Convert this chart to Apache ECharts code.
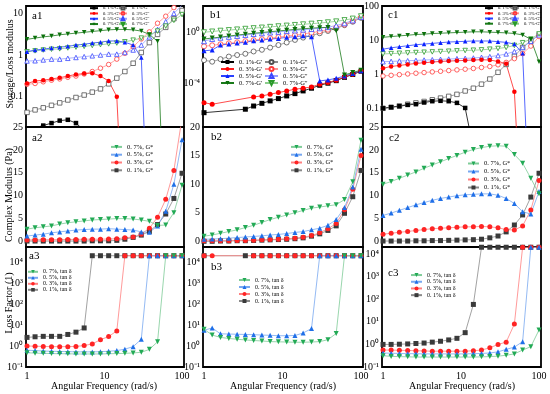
<!DOCTYPE html>
<html><head><meta charset="utf-8">
<script src="https://cdn.jsdelivr.net/npm/echarts@6/dist/echarts.min.js"></script>
<style>html,body{margin:0;padding:0;background:#fff}#c{width:550px;height:394px}</style>
</head><body><div id="c"></div>
<script>
// ---------- data ----------
const freq = [1, 1.27, 1.62, 2.07, 2.64, 3.36, 4.28, 5.46, 6.95, 8.86, 11.3, 14.4, 18.3, 23.4, 29.8, 37.9, 48.3, 61.6, 78.5, 100];

// row 1 : storage (G') / loss (G'') modulus
const a1_Gp_01 = [0.0158, 0.0174, 0.0195, 0.0224, 0.0257, 0.0269, 0.0224, 0.0148, null, null, null, null, null, null, null, null, null, null, null, null];
const a1_Gp_03 = [0.204, 0.234, 0.245, 0.263, 0.282, 0.309, 0.339, 0.355, 0.363, 0.309, 0.234, 0.0977, 0.00001, null, null, null, null, null, null, null];
const a1_Gp_05 = [1.20, 1.32, 1.38, 1.48, 1.55, 1.62, 1.74, 1.82, 1.95, 2.04, 2.19, 2.19, 2.04, 1.74, 0.871, 0.00001, null, null, null, null];
const a1_Gp_07 = [2.40, 2.57, 2.75, 2.88, 3.09, 3.24, 3.39, 3.55, 3.72, 3.89, 4.07, 4.17, 4.17, 4.07, 3.80, 3.16, 2.14, 0.00001, null, null];
const a1_Gpp_01 = [0.0407, 0.0468, 0.0525, 0.0603, 0.0692, 0.0813, 0.0933, 0.107, 0.126, 0.151, 0.2, 0.275, 0.398, 0.631, 1.15, 2.0, 3.16, 4.68, 7.59, 12.0];
const a1_Gpp_03 = [0.195, 0.204, 0.224, 0.245, 0.263, 0.288, 0.309, 0.347, 0.398, 0.479, 0.589, 0.794, 1.10, 1.58, 2.45, 3.63, 5.89, 8.71, 14.1, 22.9];
const a1_Gpp_05 = [0.716, 0.724, 0.759, 0.794, 0.794, 0.832, 0.871, 0.912, 0.955, 1.0, 1.05, 1.05, 1.15, 1.32, 1.74, 2.75, 4.17, 6.46, 10.2, 16.2];
const a1_Gpp_07 = [1.20, 1.26, 1.32, 1.38, 1.41, 1.48, 1.55, 1.62, 1.70, 1.78, 1.86, 1.95, 2.09, 2.29, 2.57, 3.02, 3.80, 5.01, 6.92, 9.55];

const b1_Gp_01 = [5.25e-7, null, null, null, null, 9.77e-7, 1.74e-6, 2.82e-6, 4.37e-6, 6.61e-6, 1.07e-5, 1.62e-5, 2.63e-5, 4.27e-5, 7.24e-5, 1.05e-4, 1.66e-4, 3.02e-4, 5.01e-4, 9.12e-4];
const b1_Gp_03 = [3.16e-6, 2.4e-6, null, null, null, null, 8.91e-6, 1.07e-5, 1.45e-5, 1.95e-5, 2.63e-5, 3.55e-5, 4.27e-5, 5.37e-5, 8.71e-5, 1.17e-4, 1.82e-4, 3.31e-4, 5.37e-4, 9.77e-4];
const b1_Gp_05 = [0.0355, 0.0407, 0.1, 0.120, 0.145, 0.162, 0.219, 0.245, 0.295, 0.331, 0.398, 0.447, 0.537, 0.447, 1.58e-4, 1.91e-4, 2.51e-4, 3.89e-4, 6.03e-4, 9.77e-4];
const b1_Gp_07 = [0.295, 0.355, 0.417, 0.501, 0.603, 0.708, 0.832, 0.955, 1.10, 1.26, 1.45, 1.66, 1.86, 2.09, 2.29, 2.40, 1.32, 4.68e-4, 7.24e-4, 1.10e-3];
const b1_Gpp_01 = [6.61e-3, 5.01e-3, 7.94e-3, 0.0126, 0.0166, 0.0209, 0.0316, 0.0427, 0.0631, 0.1, 0.158, 0.251, 0.38, 0.562, 0.832, 1.26, 2.0, 3.55, 6.61, 13.2];
const b1_Gpp_03 = [0.0794, 0.0955, 0.115, 0.138, 0.166, 0.2, 0.24, 0.288, 0.347, 0.417, 0.501, 0.603, 0.724, 0.912, 1.17, 1.58, 2.34, 3.98, 7.59, 15.1];
const b1_Gpp_05 = [0.2, 0.295, 0.372, 0.437, 0.513, 0.603, 0.724, 0.832, 0.955, 1.07, 1.23, 1.38, 1.58, 1.78, 2.04, 2.51, 3.31, 5.01, 8.32, 15.8];
const b1_Gpp_07 = [1.0, 1.15, 1.32, 1.48, 1.66, 1.86, 2.09, 2.34, 2.63, 2.95, 3.31, 3.72, 4.17, 4.68, 5.25, 6.03, 7.08, 8.91, 11.7, 17.8];

const c1_Gp_01 = [0.0977, 0.105, 0.112, 0.123, 0.129, 0.145, 0.158, 0.162, 0.158, 0.141, 0.1, 0.00631, 0.000001, null, null, null, null, null, null, null];
const c1_Gp_03 = [1.48, 1.66, 1.78, 1.91, 2.04, 2.14, 2.24, 2.34, 2.4, 2.45, 2.51, 2.57, 2.63, 2.57, 2.34, 2.0, 0.302, 0.00001, null, null];
const c1_Gp_05 = [5.37, 5.89, 6.31, 6.76, 7.24, 7.59, 7.94, 8.32, 8.71, 8.91, 9.12, 9.33, 9.33, 9.33, 8.91, 8.51, 7.59, 4.07, 0.00001, null];
const c1_Gp_07 = [12.0, 12.6, 13.2, 13.8, 14.5, 14.8, 15.5, 15.8, 16.2, 16.6, 17.0, 17.4, 17.4, 17.0, 16.6, 16.2, 15.5, 14.1, 10.5, 2.29];
const c1_Gpp_01 = [0.0977, 0.105, 0.115, 0.129, 0.141, 0.155, 0.174, 0.195, 0.219, 0.251, 0.316, 0.38, 0.501, 0.708, 1.12, 1.91, 3.31, 6.03, 9.55, 14.1];
const c1_Gpp_03 = [0.871, 0.912, 0.955, 1.0, 1.05, 1.1, 1.15, 1.2, 1.26, 1.32, 1.38, 1.45, 1.55, 1.66, 1.86, 2.19, 2.82, 3.98, 6.61, 12.6];
const c1_Gpp_05 = [2.29, 2.34, 2.4, 2.45, 2.51, 2.57, 2.63, 2.69, 2.75, 2.82, 2.88, 2.95, 3.09, 3.24, 3.47, 3.89, 4.57, 6.03, 9.12, 14.1];
const c1_Gpp_07 = [3.89, 3.98, 4.07, 4.17, 4.27, 4.37, 4.47, 4.57, 4.68, 4.79, 4.9, 5.01, 5.13, 5.37, 5.62, 6.03, 6.92, 8.32, 10.7, 15.1];

// row 2 : complex modulus G* (Pa)
const a2_01 = [0.1, 0.1, 0.1, 0.1, 0.1, 0.1, 0.1, 0.1, 0.15, 0.15, 0.15, 0.25, 0.5, 0.9, 1.4, 2.2, 3.7, 6.0, 9.4, 14.9];
const a2_03 = [0.35, 0.35, 0.4, 0.4, 0.4, 0.45, 0.45, 0.5, 0.5, 0.5, 0.55, 0.6, 0.8, 1.0, 1.6, 2.9, 5.3, 9.2, 15.5, 27];
const a2_05 = [1.2, 1.4, 1.6, 1.9, 2.1, 2.3, 2.5, 2.6, 2.7, 2.7, 2.8, 2.7, 2.6, 2.5, 2.1, 2.0, 3.4, 6.6, 12.5, 22.2];
const a2_07 = [2.7, 3.0, 3.2, 3.4, 3.8, 4.1, 4.3, 4.5, 4.7, 4.8, 4.9, 5.0, 5.0, 4.9, 4.7, 4.4, 3.5, 3.6, 6.3, 12.3];
const b2_01 = [0.0, 0.0, 0.05, 0.05, 0.1, 0.1, 0.15, 0.2, 0.25, 0.3, 0.35, 0.45, 0.6, 0.9, 1.3, 1.9, 2.7, 4.9, 7.8, 12.4];
const b2_03 = [0.1, 0.1, 0.1, 0.1, 0.15, 0.15, 0.2, 0.25, 0.3, 0.35, 0.45, 0.55, 0.7, 1.0, 1.5, 2.2, 3.1, 5.5, 9.1, 15.0];
const b2_05 = [0.35, 0.4, 0.45, 0.55, 0.65, 0.75, 0.85, 0.95, 1.1, 1.2, 1.35, 1.55, 1.7, 2.0, 2.3, 2.8, 3.8, 5.9, 9.5, 16.1];
const b2_07 = [0.9, 1.1, 1.4, 1.7, 2.0, 2.4, 2.8, 3.3, 3.8, 4.2, 4.6, 5.0, 5.4, 5.8, 6.0, 6.2, 6.4, 7.3, 10.4, 17.7];
const c2_01 = [0.1, 0.1, 0.1, 0.1, 0.15, 0.15, 0.2, 0.2, 0.25, 0.3, 0.35, 0.4, 0.5, 0.8, 1.2, 2.1, 3.6, 5.8, 9.7, 14.9];
const c2_03 = [1.6, 1.8, 2.0, 2.2, 2.4, 2.6, 2.8, 2.9, 3.0, 3.1, 3.2, 3.2, 3.3, 3.2, 3.0, 2.6, 2.5, 3.4, 6.9, 13.3];
const c2_05 = [5.7, 6.2, 6.8, 7.4, 8.0, 8.5, 9.0, 9.4, 9.7, 10.0, 10.2, 10.3, 10.4, 10.4, 10.1, 9.4, 8.3, 6.5, 6.0, 10.9];
const c2_07 = [12.5, 13.1, 13.8, 14.5, 15.2, 16.0, 16.7, 17.4, 18.1, 18.8, 19.5, 20.1, 20.5, 20.8, 20.9, 20.8, 19.0, 17.1, 13.8, 10.4];

// row 3 : loss factor tan delta
const a3_01 = [2.57, 2.75, 2.88, 2.88, 2.88, 3.55, 4.57, 7.24, 20000, 20000, 20000, 20000, 20000, 20000, 20000, 20000, 20000, 20000, 20000, 20000];
const a3_03 = [1.0, 0.977, 0.955, 0.933, 0.933, 0.933, 0.955, 1.05, 1.26, 2.0, 2.82, 5.25, 20000, 20000, 20000, 20000, 20000, 20000, 20000, 20000];
const a3_05 = [0.631, 0.603, 0.575, 0.562, 0.55, 0.537, 0.525, 0.525, 0.525, 0.537, 0.562, 0.603, 0.708, 0.933, 2.09, 20000, 20000, 20000, 20000, 20000];
const a3_07 = [0.479, 0.457, 0.447, 0.437, 0.427, 0.427, 0.417, 0.417, 0.417, 0.417, 0.427, 0.437, 0.447, 0.468, 0.501, 0.692, 1.58, 20000, 20000, 20000];
const b3_01 = [20000, null, null, null, null, 20000, 20000, 20000, 20000, 20000, 20000, 20000, 20000, 20000, 20000, 20000, 20000, 20000, 20000, 20000];
const b3_03 = [20000, 20000, null, null, null, null, 20000, 20000, 20000, 20000, 20000, 20000, 20000, 20000, 20000, 20000, 20000, 20000, 20000, 20000];
const b3_05 = [5.62, 7.24, 3.8, 3.72, 3.63, 3.55, 3.47, 3.31, 3.24, 3.09, 3.09, 3.16, 4.17, 6.76, 20000, 20000, 20000, 20000, 20000, 20000];
const b3_07 = [6.31, 3.31, 2.57, 2.29, 2.09, 1.95, 1.82, 1.74, 1.62, 1.58, 1.55, 1.51, 1.51, 1.55, 1.62, 2.0, 3.98, 20000, 20000, 20000];
const c3_01 = [1.0, 1.0, 1.02, 1.05, 1.1, 1.15, 1.26, 1.38, 1.58, 1.86, 3.31, 58.9, 20000, 20000, 20000, 20000, 20000, 20000, 20000, 20000];
const c3_03 = [0.562, 0.562, 0.55, 0.537, 0.525, 0.513, 0.501, 0.501, 0.501, 0.501, 0.501, 0.525, 0.562, 0.708, 1.0, 1.26, 7.94, 20000, 20000, 20000];
const c3_05 = [0.417, 0.407, 0.398, 0.389, 0.389, 0.38, 0.38, 0.38, 0.38, 0.38, 0.38, 0.389, 0.398, 0.417, 0.468, 0.603, 0.759, 1.32, 20000, 20000];
const c3_07 = [0.316, 0.295, 0.288, 0.282, 0.275, 0.275, 0.275, 0.275, 0.275, 0.275, 0.275, 0.275, 0.282, 0.288, 0.302, 0.331, 0.38, 0.562, 0.794, 4.37];

// tick labels
const xTicks = [1, 10, 100];
const row1Names = ["0. 1%-G'", "0. 3%-G'", "0. 5%-G'", "0. 7%-G'"];
const row1NamesPP = ["0. 1%-G''", "0. 3%-G''", "0. 5%-G''", "0. 7%-G''"];
const row2Names = ["0. 7%, G*", "0. 5%, G*", "0. 3%, G*", "0. 1%, G*"];
const row3Names = ["0. 7%, tan δ", "0. 5%, tan δ", "0. 3%, tan δ", "0. 1%, tan δ"];

// ---------- helpers ----------
const SERIF = '"Liberation Serif","Times New Roman",serif';
const SUP = {'0':'⁰','1':'¹','2':'²','3':'³','4':'⁴','5':'⁵','6':'⁶','7':'⁷','8':'⁸','9':'⁹','-':'⁻'};
function supFmt(allowed){ return function(v){ const l=Math.log10(v), e=Math.round(l); if(Math.abs(l-e)>0.02||allowed.indexOf(e)<0) return ''; return '10'+String(e).split('').map(c=>SUP[c]).join(''); }; }
function decFmt(allowed){ return function(v){ const l=Math.log10(v), e=Math.round(l); if(Math.abs(l-e)>0.02||allowed.indexOf(e)<0) return ''; return e>=0 ? String(Math.round(Math.pow(10,e))) : Math.pow(10,e).toFixed(-e); }; }
function linFmt(v){ return Math.abs(v/5-Math.round(v/5))<1e-6 ? String(Math.round(v)) : ''; }
function pts(vals){ return freq.map((f,i)=>[f, vals[i]==null ? '-' : vals[i]]); }

const COLS = [{left:26,width:158},{left:203,width:160},{left:382,width:159}];
const ROWS = [{top:6,height:121},{top:127,height:120},{top:247,height:120}];

const grids=[], xAxes=[], yAxes=[];
const yCfg = [
  {type:'log', min:0.018, max:15.4, fmt:decFmt([-1,0,1])},
  {type:'log', min:4e-8, max:112, fmt:supFmt([0,-4])},
  {type:'log', min:0.0275, max:100, fmt:decFmt([-1,0,1,2])},
  {type:'value', min:-1.2, max:25, fmt:linFmt},
  {type:'value', min:-1, max:20, fmt:linFmt},
  {type:'value', min:-1.2, max:25, fmt:linFmt},
  {type:'log', min:0.1, max:52000, fmt:supFmt([-1,0,1,2,3,4])},
  {type:'log', min:0.1, max:52000, fmt:supFmt([-1,0,1,2,3,4])},
  {type:'log', min:0.1, max:20500, fmt:supFmt([-1,0,1,2,3,4])}
];
for(let r=0;r<3;r++) for(let c=0;c<3;c++){
  const g=r*3+c;
  grids.push({left:COLS[c].left, width:COLS[c].width, top:ROWS[r].top, height:ROWS[r].height, show:true, borderColor:'#000', borderWidth:1.8, backgroundColor:'transparent'});
  xAxes.push({type:'log', gridIndex:g, min:0.97, max:106, axisLine:{show:false}, axisTick:{show:false}, splitLine:{show:false},
    axisLabel: r===2 ? {show:true, formatter:function(v){ return xTicks.some(t=>Math.abs(Math.log10(v)-Math.log10(t))<0.01) ? String(Math.round(v)) : ''; }, fontFamily:SERIF, fontSize:10, color:'#000', margin:4} : {show:false}});
  const y=yCfg[g];
  yAxes.push({type:y.type, gridIndex:g, min:y.min, max:y.max, axisLine:{show:false}, axisTick:{show:false}, splitLine:{show:false},
    axisLabel:{formatter:y.fmt, fontFamily:SERIF, fontSize:10, color:'#000', margin:3, showMinLabel:true, showMaxLabel:true, hideOverlap:false}});
}

function S(name, g, vals, st){
  const open = !!st.open;
  return {type:'line', name, xAxisIndex:g, yAxisIndex:g, data:pts(vals), symbol:st.sym, symbolSize:st.size, symbolRotate:st.rot||0,
    connectNulls:true, clip:true, lineStyle:{color:st.line, width:0.8},
    itemStyle: open ? {color:'#ffffff', borderColor:st.color, borderWidth:0.8} : {color:st.color, borderWidth:0},
    emphasis:{disabled:true}, animation:false, z:st.z||2};
}
// styles
const R1 = {
  p01:{sym:'rect', color:'#000000', line:'#000000'},
  p03:{sym:'circle', color:'#ff0000', line:'#ff2020'},
  p05:{sym:'triangle', color:'#0a22ff', line:'#2a40ff'},
  p07:{sym:'triangle', rot:180, color:'#0b700b', line:'#1a7a1a'},
  pp01:{sym:'rect', open:true, color:'#505050', line:'#8a8a8a'},
  pp03:{sym:'circle', open:true, color:'#ff3a3a', line:'#ff9090'},
  pp05:{sym:'triangle', open:true, color:'#3a48ff', line:'#95a0ff'},
  pp07:{sym:'triangle', open:true, rot:180, color:'#2a9a2a', line:'#8ccc8c'}
};
const R2 = {
  s01:{sym:'rect', color:'#3a3a3a', line:'#8a8a8a'},
  s03:{sym:'circle', color:'#ff2424', line:'#ff8080'},
  s05:{sym:'triangle', color:'#1f6fe8', line:'#78a8f0'},
  s07:{sym:'triangle', rot:180, color:'#22aa55', line:'#7fcc98'}
};
function sz(o,s){ return Object.assign({}, o, {size:s}); }

const series = [];
// a1
[[a1_Gpp_01,'pp01',0],[a1_Gpp_03,'pp03',1],[a1_Gpp_05,'pp05',2],[a1_Gpp_07,'pp07',3]].forEach(d=>series.push(S(row1NamesPP[d[2]],0,d[0],sz(R1[d[1]],4.5))));
[[a1_Gp_01,'p01',0],[a1_Gp_03,'p03',1],[a1_Gp_05,'p05',2],[a1_Gp_07,'p07',3]].forEach(d=>series.push(S(row1Names[d[2]],0,d[0],sz(R1[d[1]],4.5))));
// b1 (0.1% G'' drawn with open circles here)
const b1pp01 = Object.assign({}, R1.pp01, {sym:'circle'});
series.push(S(row1NamesPP[0]+' ',1,b1_Gpp_01,sz(b1pp01,5)));
[[b1_Gpp_03,'pp03',1],[b1_Gpp_05,'pp05',2],[b1_Gpp_07,'pp07',3]].forEach(d=>series.push(S(row1NamesPP[d[2]]+' ',1,d[0],sz(R1[d[1]],5))));
[[b1_Gp_01,'p01',0],[b1_Gp_03,'p03',1],[b1_Gp_05,'p05',2],[b1_Gp_07,'p07',3]].forEach(d=>series.push(S(row1Names[d[2]]+' ',1,d[0],sz(R1[d[1]],5))));
// c1
[[c1_Gpp_01,'pp01',0],[c1_Gpp_03,'pp03',1],[c1_Gpp_05,'pp05',2],[c1_Gpp_07,'pp07',3]].forEach(d=>series.push(S(row1NamesPP[d[2]],2,d[0],sz(R1[d[1]],4.5))));
[[c1_Gp_01,'p01',0],[c1_Gp_03,'p03',1],[c1_Gp_05,'p05',2],[c1_Gp_07,'p07',3]].forEach(d=>series.push(S(row1Names[d[2]],2,d[0],sz(R1[d[1]],4.5))));
// rows 2 & 3
const r2 = [[a2_01,a2_03,a2_05,a2_07],[b2_01,b2_03,b2_05,b2_07],[c2_01,c2_03,c2_05,c2_07]];
const r3 = [[a3_01,a3_03,a3_05,a3_07],[b3_01,b3_03,b3_05,b3_07],[c3_01,c3_03,c3_05,c3_07]];
const keys = ['s01','s03','s05','s07'];
for(let c=0;c<3;c++){
  for(let k=0;k<4;k++) series.push(S(row2Names[3-k],3+c,r2[c][k],sz(R2[keys[k]],5)));
  for(let k=0;k<4;k++) series.push(S(row3Names[3-k],6+c,r3[c][k],sz(R2[keys[k]],5)));
}

function LG(data,left,top,fs,rowH,iw,ih){
  return {data, left, top, orient:'vertical', padding:0, itemGap:0, itemWidth:iw, itemHeight:ih, selectedMode:false,
    textStyle:{fontSize:fs, lineHeight:rowH, fontFamily:SERIF, color:'#000'}};
}
const legends = [
  LG(row1Names,89,5.5,4.6,5.3,8,3.5),
  LG(row1NamesPP,118,5.5,4.6,5.3,8,3.5),
  LG(row1Names.map(n=>n+' '),220,58.5,6.5,7,13,5),
  LG(row1NamesPP.map(n=>n+' '),264,58.5,6.5,7,13,5),
  LG(row1Names,484,5.5,4.6,5.2,8,3.5),
  LG(row1NamesPP,510,5.5,4.6,5.2,8,3.5),
  LG(row2Names,110,143,6.5,7.8,11,5),
  LG(row2Names,290,143,6.5,7.8,11,5),
  LG(row2Names,467,159.5,6.5,8,11,5),
  LG(row3Names,27,268.8,6,5.9,10,4.5),
  LG(row3Names,238,276.5,6,7,11,5),
  LG(row3Names,410,271.7,6,6.7,11,5)
];

function T(text,x,y,fs,rot,align){
  return {type:'text', x, y, rotation:rot||0, silent:true, z:100,
    style:{text, fontSize:fs, fontFamily:SERIF, fill:'#000', align:align||(rot?'center':'left'), verticalAlign:'middle'}};
}
const graphic = [
  T('a1',32,16,11), T('b1',210,15,11), T('c1',388,15,11),
  T('a2',32,138,11), T('b2',211,137,11), T('c2',389,138,11),
  T('a3',29,256,11), T('b3',211,267,11), T('c3',388,273,11),
  T('Storage/Loss modulus',10,64,10,Math.PI/2),
  T('Complex Modulus (Pa)',9,195,10,Math.PI/2),
  T('Loss Factor (1)',9,303,10,Math.PI/2),
  T('Angular Frequency (rad/s)',104,386,10,0,'center'),
  T('Angular Frequency (rad/s)',283,386,10,0,'center'),
  T('Angular Frequency (rad/s)',462,386,10,0,'center')
];

const chart = echarts.init(document.getElementById('c'), null, {renderer:'canvas', width:550, height:394});
chart.setOption({backgroundColor:'#fff', animation:false, grid:grids, xAxis:xAxes, yAxis:yAxes, series, legend:legends, graphic});
</script></body></html>
